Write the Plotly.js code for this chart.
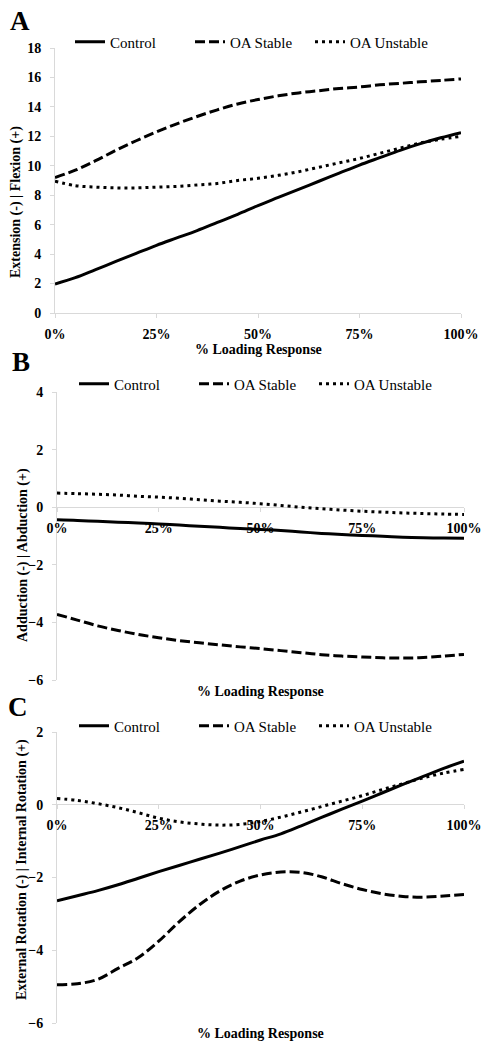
<!DOCTYPE html>
<html><head><meta charset="utf-8">
<script src="https://cdn.plot.ly/plotly-3.0.1.min.js"></script>
<style>html,body{margin:0;padding:0;background:#fff;} #chart{width:491px;height:1050px;}</style>
</head><body><div id="chart"></div>
<script>
// % of loading response (x positions)
const pct = [0,5,10,15,20,25,30,35,40,45,50,55,60,65,70,75,80,85,90,95,100];
const xTicks = [0,25,50,75,100];
const xTickLabels = ["0%","25%","50%","75%","100%"];
const seriesNames = ["Control", "OA Stable", "OA Unstable"];

// Panel A: Extension (-) | Flexion (+)
const A_control  = [1.97,2.4,2.95,3.5,4.05,4.6,5.1,5.6,6.15,6.7,7.3,7.85,8.4,8.95,9.5,10.05,10.55,11.05,11.5,11.9,12.25];
const A_stable   = [9.2,9.7,10.35,11.05,11.7,12.3,12.85,13.35,13.8,14.2,14.5,14.75,14.95,15.1,15.25,15.35,15.5,15.6,15.7,15.8,15.9];
const A_unstable = [8.95,8.65,8.55,8.5,8.5,8.55,8.6,8.7,8.8,9.0,9.15,9.35,9.6,9.9,10.2,10.5,10.85,11.2,11.55,11.8,12.0];

// Panel B: Adduction (-) | Abduction (+)
const B_control  = [-0.44,-0.46,-0.49,-0.52,-0.55,-0.58,-0.62,-0.66,-0.7,-0.74,-0.77,-0.81,-0.86,-0.91,-0.95,-0.98,-1.01,-1.04,-1.06,-1.07,-1.08];
const B_stable   = [-3.72,-3.92,-4.12,-4.28,-4.42,-4.53,-4.63,-4.71,-4.78,-4.85,-4.91,-4.98,-5.05,-5.12,-5.17,-5.2,-5.23,-5.24,-5.22,-5.17,-5.11];
const B_unstable = [0.49,0.47,0.45,0.42,0.38,0.35,0.31,0.26,0.21,0.17,0.12,0.06,0.0,-0.05,-0.1,-0.14,-0.17,-0.2,-0.22,-0.24,-0.25];

// Panel C: External Rotation (-) | Internal Rotation (+)
const C_control  = [-2.64,-2.5,-2.36,-2.2,-2.02,-1.84,-1.67,-1.5,-1.33,-1.15,-0.97,-0.8,-0.58,-0.35,-0.12,0.1,0.33,0.56,0.78,1.0,1.2];
const C_stable   = [-4.95,-4.92,-4.8,-4.5,-4.2,-3.75,-3.22,-2.75,-2.37,-2.1,-1.93,-1.85,-1.86,-1.98,-2.17,-2.33,-2.45,-2.52,-2.54,-2.51,-2.47];
const C_unstable = [0.17,0.12,0.03,-0.08,-0.22,-0.37,-0.47,-0.53,-0.56,-0.54,-0.46,-0.34,-0.2,-0.05,0.1,0.25,0.42,0.58,0.74,0.87,0.97];

const FONT = "'Liberation Serif', 'Times New Roman', serif";
const W = 491, H = 1050;
const px = v => v / W;
const py = v => 1 - v / H;

const styles = [
  {color:'#000', width:3, dash:'solid', shape:'spline'},
  {color:'#000', width:3, dash:'10px,4px', shape:'spline'},
  {color:'#000', width:3, dash:'3px,4px', shape:'spline'}
];

function panel(vals, xa, ya, lg) {
  return vals.map((v, i) => ({
    type:'scatter', mode:'lines', x:pct, y:v, name:seriesNames[i],
    xaxis:xa, yaxis:ya, legend:lg, line:styles[i], hoverinfo:'skip'
  }));
}

const data = [].concat(
  panel([A_control, A_stable, A_unstable], 'x', 'y', 'legend'),
  panel([B_control, B_stable, B_unstable], 'x2', 'y2', 'legend2'),
  panel([C_control, C_stable, C_unstable], 'x3', 'y3', 'legend3')
);

const tickFont = {family:FONT, size:14, weight:'bold', color:'#000'};
const titleFont = {family:FONT, size:14, weight:'bold', color:'#000'};
const axBase = {
  showgrid:false, zeroline:false, showline:true, linecolor:'#d9d9d9', linewidth:1,
  ticks:'outside', ticklen:4, tickcolor:'#d9d9d9', tickwidth:1, tickfont:tickFont,
  fixedrange:true, layer:'below traces'
};
const xBase = Object.assign({}, axBase, {range:[0,100], tickmode:'array', tickvals:xTicks, ticktext:xTickLabels, ticklabelstandoff:4});
const yBase = Object.assign({}, axBase, {tickmode:'linear', dtick:2, ticklabelstandoff:6});

const legBase = {orientation:'h', xanchor:'left', yanchor:'middle', bgcolor:'rgba(0,0,0,0)',
  font:{family:FONT, size:15, color:'#000'}, entrywidth:75, entrywidthmode:'pixels', traceorder:'normal'};

function ann(text, x, y, font, extra) {
  return Object.assign({text:text, x:px(x), y:py(y), xref:'paper', yref:'paper', showarrow:false,
    xanchor:'center', yanchor:'middle', font:font}, extra || {});
}
const panelFont = {family:FONT, size:27, color:'#000'};

const layout = {
  width:W, height:H, margin:{l:0, r:0, t:0, b:0},
  paper_bgcolor:'#fff', plot_bgcolor:'#fff',
  font:{family:FONT, color:'#000'},
  xaxis: Object.assign({}, xBase, {domain:[px(55), px(461)], anchor:'y'}),
  yaxis: Object.assign({}, yBase, {domain:[py(313), py(48)], range:[0,18], anchor:'x'}),
  xaxis2: Object.assign({}, xBase, {domain:[px(57), px(464)], anchor:'free', position:py(507)}),
  yaxis2: Object.assign({}, yBase, {domain:[py(680), py(392)], range:[-6,4], anchor:'x2'}),
  xaxis3: Object.assign({}, xBase, {domain:[px(57), px(464)], anchor:'free', position:py(804)}),
  yaxis3: Object.assign({}, yBase, {domain:[py(1023), py(732)], range:[-6,2], anchor:'x3'}),
  legend: Object.assign({}, legBase, {x:px(70), y:py(42)}),
  legend2: Object.assign({}, legBase, {x:px(74), y:py(384)}),
  legend3: Object.assign({}, legBase, {x:px(74), y:py(726)}),
  annotations: [
    ann('<b>A</b>', 20, 21, panelFont),
    ann('<b>B</b>', 21, 362, panelFont),
    ann('<b>C</b>', 18, 707, panelFont),
    ann('% Loading Response', 258, 349, titleFont),
    ann('% Loading Response', 260, 692, titleFont),
    ann('% Loading Response', 260, 1033, titleFont),
    ann('Extension (-) | Flexion (+)', 16, 202, titleFont, {textangle:-90}),
    ann('Adduction (-) | Abduction (+)', 23, 555, titleFont, {textangle:-90}),
    ann('External Rotation (-) | Internal Rotation (+)', 22, 870, titleFont, {textangle:-90})
  ]
};

Plotly.newPlot('chart', data, layout, {staticPlot:true, displayModeBar:false});
</script>
</body></html>
